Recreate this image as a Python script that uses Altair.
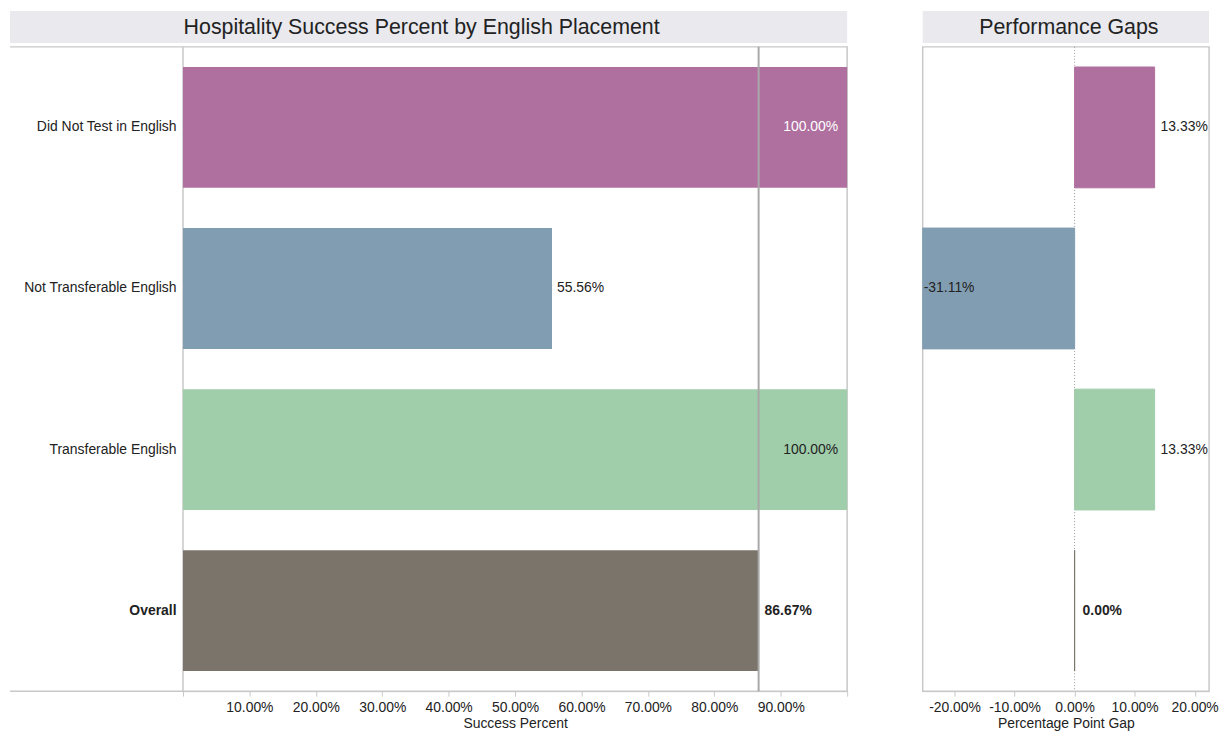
import altair as alt
import pandas as pd

categories = ["Did Not Test in English", "Not Transferable English", "Transferable English", "Overall"]
success_pct = [100.0, 55.56, 100.0, 86.67]
gap_pct = [13.33, -31.11, 13.33, 0.0]
bar_colors = ["#b0709f", "#819db1", "#a0cdaa", "#7b746b"]
left_title = "Hospitality Success Percent by English Placement"
right_title = "Performance Gaps"
success_ticks = [0, 10, 20, 30, 40, 50, 60, 70, 80, 90, 100]
gap_ticks = [-20, -10, 0, 10, 20]

df = pd.DataFrame({"category": categories, "success": success_pct, "gap": gap_pct})
one = pd.DataFrame({"k": [0]})

FONT = "Liberation Sans"
GRAY = "#c8c8c8"
BAND = "#e9e9ee"
TXT = "#222222"
FS = 14
LW, RW, H = 668, 288, 648
LABEL_W = 174
FMT = "(datum.{f} < 0 ? '-' : '') + format(abs(datum.{f}), '.2f') + '%'"

yscale = alt.Scale(domain=categories, paddingInner=0.25, paddingOuter=0.125)
color = alt.Color("category:N", scale=alt.Scale(domain=categories, range=bar_colors), legend=None)
stroke = alt.Stroke("category:N", scale=alt.Scale(domain=categories, range=bar_colors), legend=None)

y_left = alt.Y(
    "category:N", sort=categories, scale=yscale,
    axis=alt.Axis(
        title=None, ticks=False, domain=False, labelPadding=7, labelFontSize=FS,
        labelColor=TXT, minExtent=174, labelLimit=300,
        labelFontWeight={"condition": {"test": "datum.value === 'Overall'", "value": "bold"}, "value": "normal"},
    ),
)
y_right = alt.Y("category:N", sort=categories, scale=yscale, axis=None)

axis_common = dict(
    grid=False, tickSize=5, tickColor=GRAY, domainColor=GRAY, labelFontSize=FS, titleFontSize=FS,
    titleFontWeight="normal", labelColor=TXT, titleColor=TXT, labelPadding=4, titlePadding=3,
    labelFlush=False,
)
x_left = alt.X(
    "success:Q",
    scale=alt.Scale(domain=[0, 100], nice=False, zero=False),
    axis=alt.Axis(
        values=success_ticks, title="Success Percent",
        labelExpr="datum.value <= 0 || datum.value >= 100 ? '' : format(datum.value, '.2f') + '%'",
        **axis_common,
    ),
)
x_right = alt.X(
    "gap:Q",
    scale=alt.Scale(domain=[-25.3, 22.4], nice=False, zero=False, clamp=True),
    axis=alt.Axis(
        values=gap_ticks, title="Percentage Point Gap", labelExpr=FMT.format(f="value"), **axis_common,
    ),
)

def band(x0, x1, title, xc):
    rect = alt.Chart(one).mark_rect(color=BAND).encode(
        x=alt.value(x0), x2=alt.value(x1), y=alt.value(-36), y2=alt.value(-4)
    )
    txt = alt.Chart(one).mark_text(fontSize=21.5, color=TXT, baseline="middle", align="center").encode(
        x=alt.value(xc), y=alt.value(-19), text=alt.value(title)
    )
    return rect, txt

l_rect, l_txt = band(-LABEL_W, LW, left_title, 240)
top_ext = alt.Chart(one).mark_rule(color=GRAY, strokeWidth=1.5).encode(
    x=alt.value(-LABEL_W), x2=alt.value(0), y=alt.value(0))
bot_ext = alt.Chart(one).mark_rule(color=GRAY, strokeWidth=1.5).encode(
    x=alt.value(-LABEL_W), x2=alt.value(0), y=alt.value(H))

ycat = alt.Y("category:N", sort=categories)
lbase = alt.Chart(df).transform_calculate(lbl=FMT.format(f="success"))
l_bars = lbase.mark_bar().encode(x=x_left, y=y_left, color=color)
l_ref = lbase.transform_filter(alt.datum.category == "Overall").mark_rule(color="#a8a8a8", strokeWidth=2).encode(
    x=alt.X("success:Q"))
l_in = lbase.transform_filter(alt.datum.success >= 99).mark_text(align="right", dx=-9, fontSize=FS).encode(
    x="success:Q", y=ycat, text="lbl:N",
    color=alt.condition(alt.datum.category == categories[0], alt.value("white"), alt.value(TXT)))
l_out = lbase.transform_filter((alt.datum.success < 99) & (alt.datum.category != "Overall")).mark_text(
    align="left", dx=5, fontSize=FS, color=TXT).encode(x="success:Q", y=ycat, text="lbl:N")
l_bold = lbase.transform_filter(alt.datum.category == "Overall").mark_text(
    align="left", dx=6, fontSize=FS, fontWeight="bold", color=TXT).encode(x="success:Q", y=ycat, text="lbl:N")

left = alt.layer(l_rect, l_txt, top_ext, bot_ext, l_bars, l_ref, l_in, l_out, l_bold).properties(
    width=LW, height=H)

r_rect, r_txt = band(0, RW, right_title, RW / 2 + 3)
rbase = alt.Chart(df).transform_calculate(lbl=FMT.format(f="gap"))
r_bars = rbase.mark_bar(strokeWidth=1).encode(x=x_right, y=y_right, color=color, stroke=stroke)
r_zero = alt.Chart(one).mark_rule(color="#999999", strokeDash=[1, 2], strokeWidth=1).encode(x=alt.datum(0))
r_pos = rbase.transform_filter(alt.datum.gap > 0).mark_text(align="left", dx=6, fontSize=FS, color=TXT).encode(
    x="gap:Q", y=ycat, text="lbl:N")
r_neg = rbase.transform_filter(alt.datum.gap < 0).mark_text(align="left", dx=1, fontSize=FS, color=TXT).encode(
    x="gap:Q", y=ycat, text="lbl:N")
r_zero_t = rbase.transform_filter(alt.datum.gap == 0).mark_text(
    align="left", dx=8, fontSize=FS, fontWeight="bold", color=TXT).encode(x="gap:Q", y=ycat, text="lbl:N")

right = alt.layer(r_rect, r_txt, r_zero, r_bars, r_pos, r_neg, r_zero_t).properties(width=RW, height=H)

chart = alt.hconcat(left, right, spacing=72).resolve_scale(y="shared").properties(padding=0).configure(
    font=FONT
).configure_view(stroke=GRAY, strokeWidth=1.5)

chart.save("out.html", embed_options={"renderer": "svg", "actions": False})
